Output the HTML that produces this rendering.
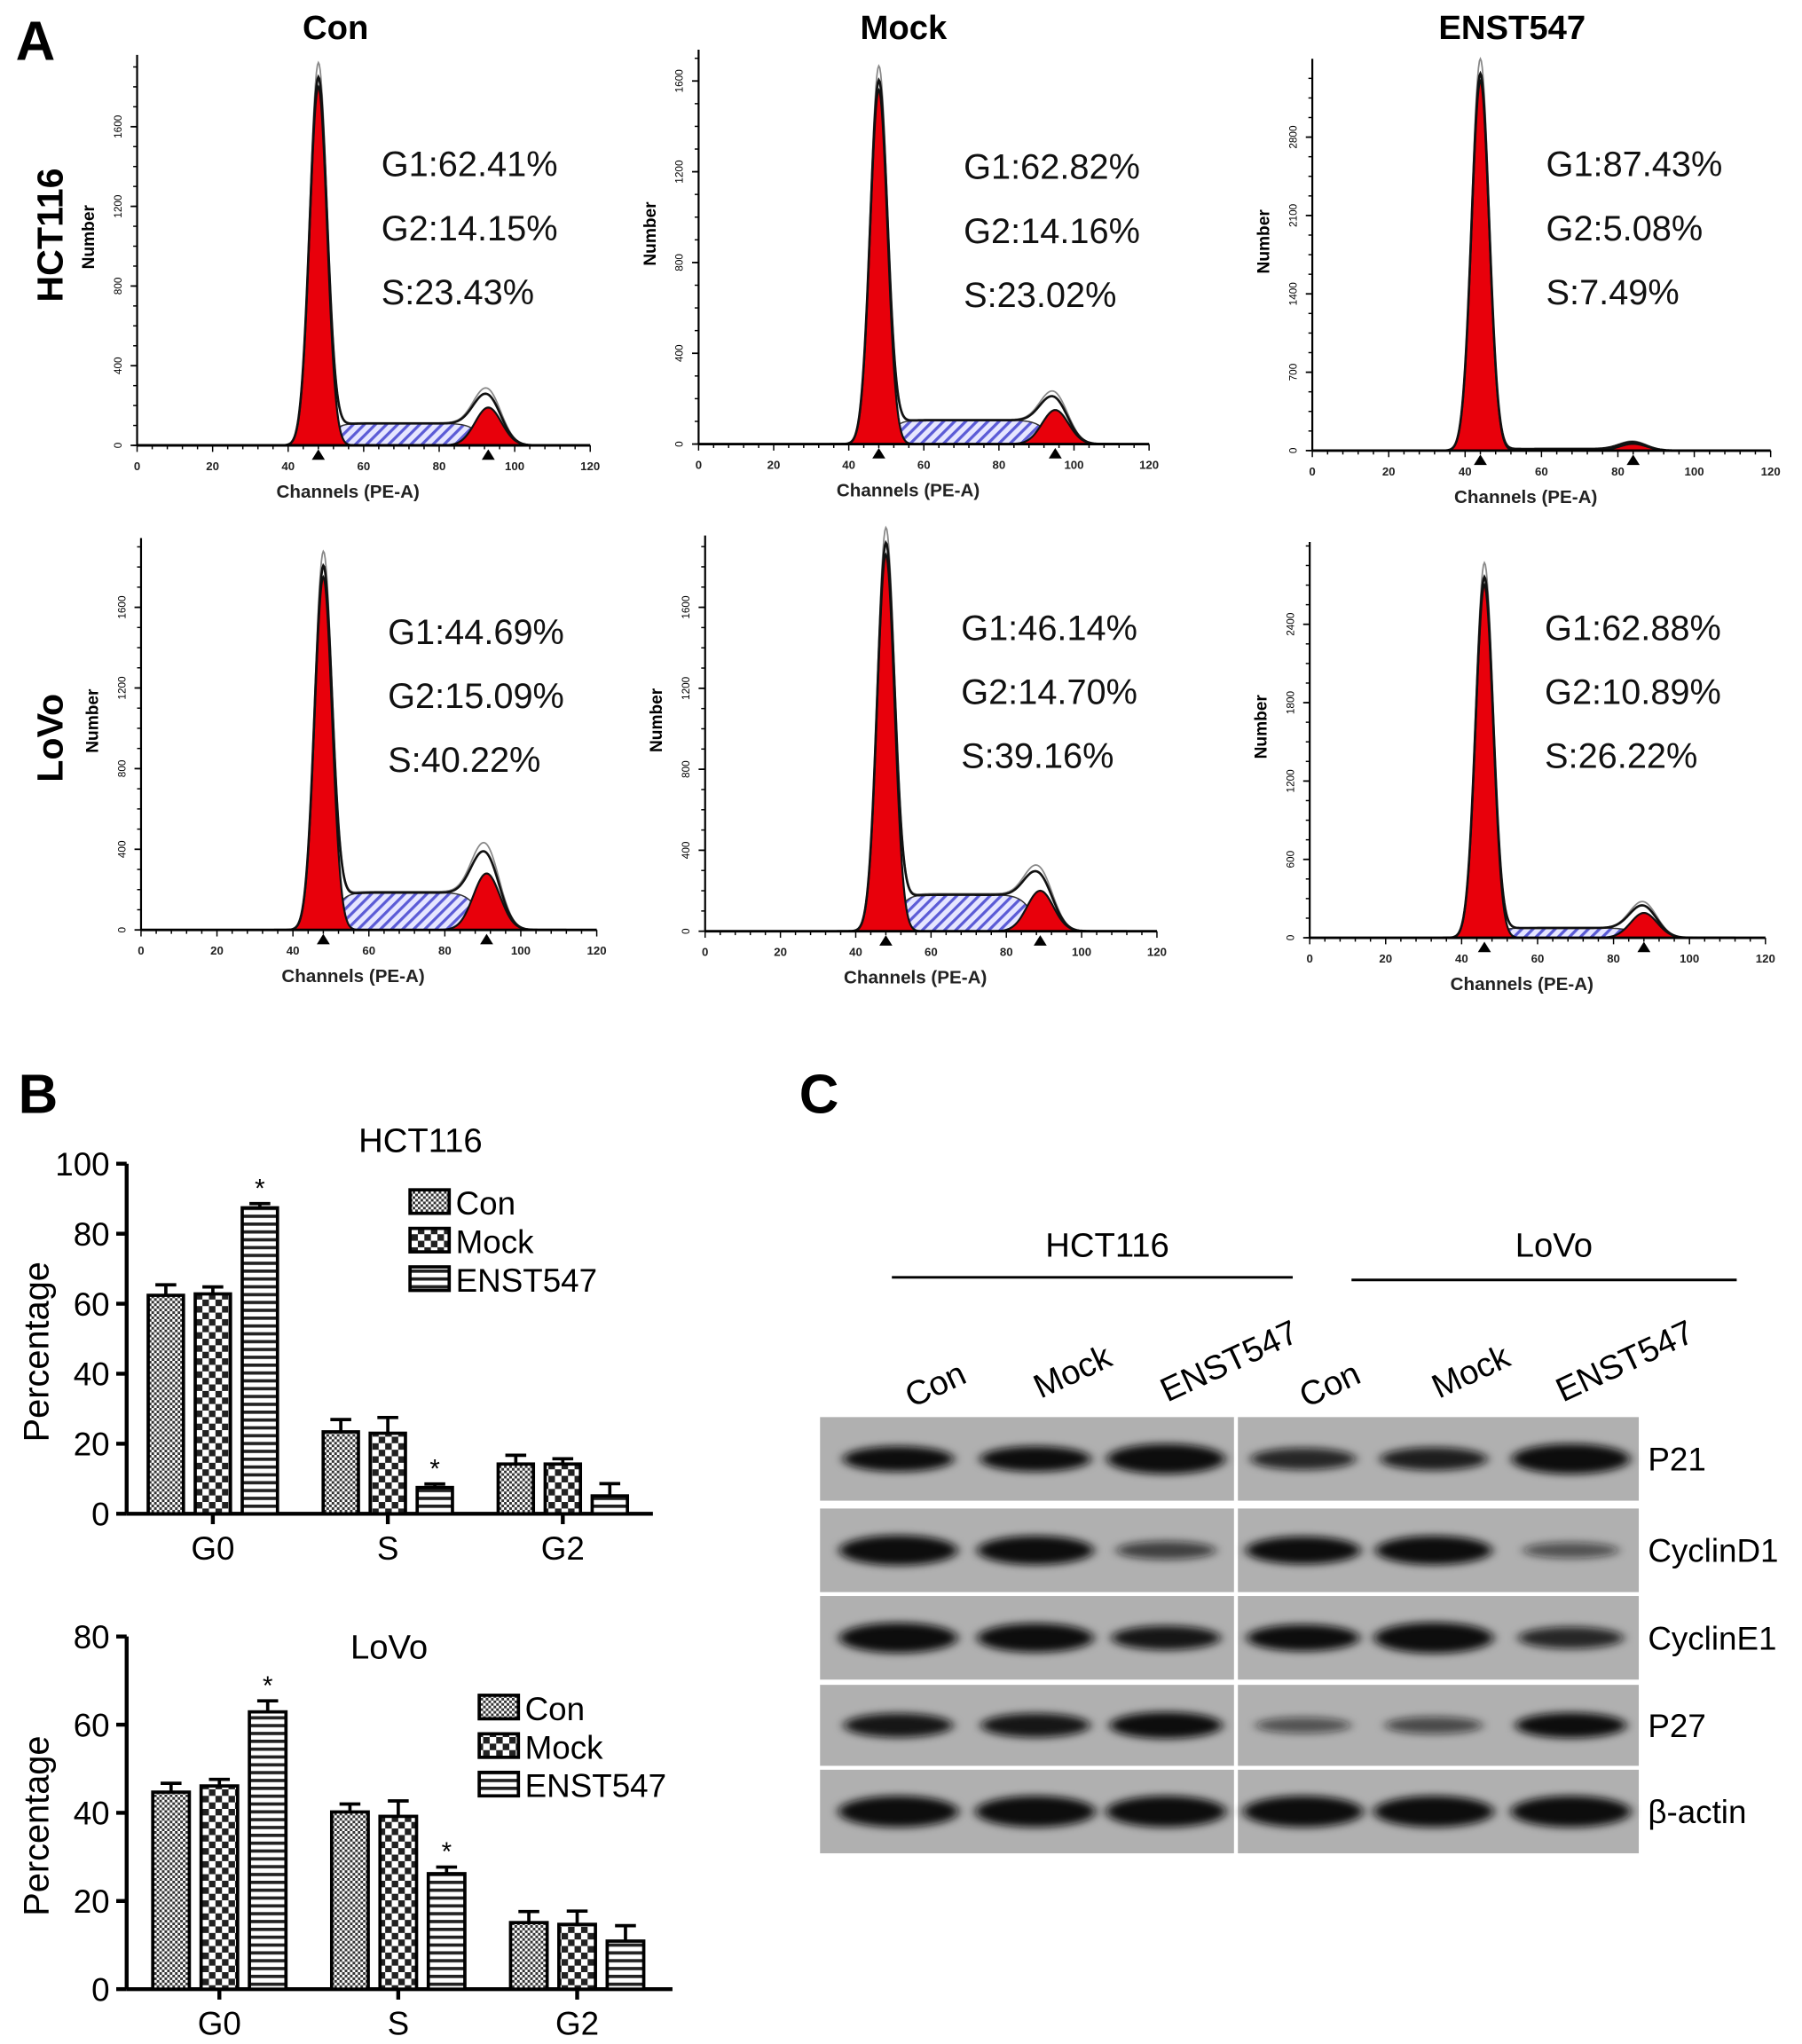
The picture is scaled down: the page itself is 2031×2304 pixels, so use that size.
<!DOCTYPE html>
<html><head><meta charset="utf-8">
<style>
html,body{margin:0;padding:0;background:#fff;}
svg{display:block;font-family:"Liberation Sans",Arial,sans-serif;}
</style></head>
<body>
<svg id="fig" width="2031" height="2304" viewBox="0 0 1380 1565" preserveAspectRatio="none" xmlns="http://www.w3.org/2000/svg">
<defs>
<pattern id="hatch" patternUnits="userSpaceOnUse" width="6" height="6" patternTransform="rotate(45)">
<rect width="6" height="6" fill="#e6e6ff"/><rect width="2.2" height="6" fill="#5b5bd6"/></pattern>
<pattern id="pCon" patternUnits="userSpaceOnUse" width="4" height="4">
<rect width="4" height="4" fill="#fff"/><rect width="2" height="2" fill="#333"/><rect x="2" y="2" width="2" height="2" fill="#333"/></pattern>
<pattern id="pMock" patternUnits="userSpaceOnUse" width="10" height="10">
<rect width="10" height="10" fill="#fff"/><rect width="5" height="5" fill="#222"/><rect x="5" y="5" width="5" height="5" fill="#222"/></pattern>
<pattern id="pEns" patternUnits="userSpaceOnUse" width="6" height="6">
<rect width="6" height="6" fill="#fff"/><rect width="6" height="2.5" fill="#222"/></pattern>
<filter id="blur" x="-30%" y="-60%" width="160%" height="220%"><feGaussianBlur stdDeviation="4 3"/></filter>
</defs>
<g id="root"></g>
</svg>
<script>
// ---------- Panel A histogram data ----------
const histTitles = ["Con","Mock","ENST547"];
const histRows = ["HCT116","LoVo"];
const g1Pos = [48,48,44,48,48,46];
const g1Height = [1800,1560,3300,1750,1860,2700];
const g2Pos = [93,95,84,91,89,88];
const g2Height = [190,150,60,280,200,190];
const sLevel = [110,105,15,185,180,75];
const histYTicks = [[0,400,800,1200,1600],[0,400,800,1200,1600],[0,700,1400,2100,2800],[0,400,800,1200,1600],[0,400,800,1200,1600],[0,600,1200,1800,2400]];
const histXTicks = [0,20,40,60,80,100,120];
const statG1 = ["62.41","62.82","87.43","44.69","46.14","62.88"];
const statG2 = ["14.15","14.16","5.08","15.09","14.70","10.89"];
const statS = ["23.43","23.02","7.49","40.22","39.16","26.22"];
// ---------- Panel B bar data ----------
const barGroups = ["G0","S","G2"];
const barSeries = ["Con","Mock","ENST547"];
const hctValues = [[62.4,62.8,87.4],[23.4,23.0,7.5],[14.2,14.2,5.1]];
const hctErrors = [[3,2,1.2],[3.5,4.5,1],[2.5,1.5,3.5]];
const hctStars = [[0,0,1],[0,0,1],[0,0,0]];
const lovoValues = [[44.7,46.1,62.9],[40.2,39.2,26.2],[15.1,14.7,10.9]];
const lovoErrors = [[2,1.5,2.5],[1.8,3.5,1.5],[2.5,3,3.5]];
const lovoStars = [[0,0,1],[0,0,1],[0,0,0]];
const hctTicks = [0,20,40,60,80,100];
const lovoTicks = [0,20,40,60,80];
// ---------- Panel C blot data ----------
const blotProteins = ["P21","CyclinD1","CyclinE1","P27","β-actin"];
const blotLanes = ["Con","Mock","ENST547","Con","Mock","ENST547"];
const blotIntensity = [[0.75,0.75,0.95,0.6,0.65,0.95],[0.95,0.9,0.45,0.85,0.9,0.35],[0.95,0.9,0.7,0.8,0.98,0.6],[0.7,0.7,0.8,0.35,0.4,0.75],[1,1,1,1,1,1]];

const NS="http://www.w3.org/2000/svg";
const root=document.getElementById('root');
function mk(tag,attrs,parent,text){const e=document.createElementNS(NS,tag);for(const k in attrs)e.setAttribute(k,attrs[k]);if(text!==undefined)e.textContent=text;(parent||root).appendChild(e);return e;}

let t;
t=mk('text',{x:12,y:46,'font-size':42,'font-weight':'bold'},root,'A');


t=mk('text',{x:14,y:852,'font-size':42,'font-weight':'bold'},root,'B');


t=mk('text',{x:612,y:852,'font-size':42,'font-weight':'bold'},root,'C');



// ---------- Panel A ----------
const histGeom=[
 {x0:105,x1:452,base:341,top:42,tv:1600,ty:97},
 {x0:535,x1:880,base:340,top:38,tv:1600,ty:62},
 {x0:1005,x1:1356,base:345,top:45,tv:2800,ty:105},
 {x0:108,x1:457,base:712,top:412,tv:1600,ty:465},
 {x0:540,x1:886,base:713,top:410,tv:1600,ty:465},
 {x0:1003,x1:1352,base:718,top:415,tv:2400,ty:478}];
const statPosX=[292,738,1184,297,736,1183];
const statPosY=[135,137,135,493,490,490];
const colTitleX=[257,692,1158];
histTitles.forEach((s,i)=>{const e=mk('text',{x:colTitleX[i],y:30,'font-size':26,'font-weight':'bold','text-anchor':'middle'},root,s);

});
const rowY=[180,565];
histRows.forEach((s,i)=>{const e=mk('text',{x:0,y:0,'font-size':28,'font-weight':'bold','text-anchor':'middle',transform:`translate(48,${rowY[i]}) rotate(-90)`},root,s);

});

function sig(z){return 1/(1+Math.exp(-z));}
for(let p=0;p<6;p++){
 const G=histGeom[p];
 const g=mk('g',{});
 
 
 const sx=c=>G.x0+(G.x1-G.x0)*c/120;
 const k=(G.base-G.ty)/G.tv;
 const sy=v=>G.base-v*k;
 const m1=g1Pos[p],h1=g1Height[p],m2=g2Pos[p],h2=g2Height[p],S=sLevel[p];
 const sd1=2.3,sd2=3.5;
 const fG1=c=>h1*Math.exp(-(c-m1)*(c-m1)/(2*sd1*sd1));
 const fG2=c=>h2*Math.exp(-(c-m2)*(c-m2)/(2*sd2*sd2));
 const fS=c=>S*sig((c-m1-3)/1.5)*sig((m2-2-c)/1.8);
 const cs=[];for(let c=35;c<=112;c+=0.25)cs.push(c);
 const area=(f)=>'M'+sx(cs[0])+','+G.base+' '+cs.map(c=>'L'+sx(c).toFixed(2)+','+sy(f(c)).toFixed(2)).join(' ')+' L'+sx(cs[cs.length-1])+','+G.base+'Z';
 const line=(f)=>'M'+cs.map(c=>sx(c).toFixed(2)+','+sy(f(c)).toFixed(2)).join(' L');
 let e;
 e=mk('path',{d:area(fS),fill:'url(#hatch)',stroke:'#333','stroke-width':1},g);
 
 
 e=mk('path',{d:area(fG1),fill:'#e8000b',stroke:'#111','stroke-width':1.5},g);
 
 
 e=mk('path',{d:area(fG2),fill:'#e8000b',stroke:'#111','stroke-width':1.5},g);
 
 
 e=mk('path',{d:line(c=>fG1(c)*1.06+fG2(c)*1.35+fS(c)*1.03),fill:'none',stroke:'#888','stroke-width':1.2},g);
 
 
 e=mk('path',{d:line(c=>fG1(c)*1.02+fG2(c)*1.2+fS(c)),fill:'none',stroke:'#111','stroke-width':1.8},g);
 
 
 e=mk('line',{x1:G.x0,y1:G.top,x2:G.x0,y2:G.base,stroke:'#000','stroke-width':1.5},g);
 
 
 e=mk('line',{x1:G.x0,y1:G.base,x2:G.x1,y2:G.base,stroke:'#000','stroke-width':2},g);
 
 
 for(let yy=G.base;yy>G.top;yy-=(G.base-G.ty)/16){mk('line',{x1:G.x0-3,y1:yy,x2:G.x0,y2:yy,stroke:'#000','stroke-width':1},g);}
 histYTicks[p].forEach(v=>{const ty=sy(v);
  mk('line',{x1:G.x0-5,y1:ty,x2:G.x0,y2:ty,stroke:'#000','stroke-width':1.2},g);
  const tt=mk('text',{x:0,y:0,'font-size':8,'text-anchor':'middle',transform:`translate(${G.x0-12},${ty}) rotate(-90)`},g,String(v));
  
  });
 for(let c=0;c<=120;c+=4){mk('line',{x1:sx(c),y1:G.base,x2:sx(c),y2:G.base+(c%20?3:5),stroke:'#000','stroke-width':1},g);}
 histXTicks.forEach(v=>{const tt=mk('text',{x:sx(v),y:G.base+19,'font-size':9,'font-weight':'bold','text-anchor':'middle',fill:'#222'},g,String(v));
  
  });
 [m1,m2].forEach(m=>{const tx=sx(m);const tr=mk('path',{d:`M${tx-5},${G.base+11} L${tx+5},${G.base+11} L${tx},${G.base+3}Z`,fill:'#000'},g);
  
  });
 e=mk('text',{x:(G.x0+G.x1)/2-12,y:G.base+40,'font-size':14,'font-weight':'bold','text-anchor':'middle',fill:'#222'},g,'Channels (PE-A)');
 
 
 e=mk('text',{x:0,y:0,'font-size':13,'font-weight':'bold','text-anchor':'middle',transform:`translate(${G.x0-33},${(G.top+G.base)/2-10}) rotate(-90)`},g,'Number');
 
 
 [['G1:',statG1[p]],['G2:',statG2[p]],['S:',statS[p]]].forEach((a,i)=>{
  const tt=mk('text',{x:statPosX[p],y:statPosY[p]+i*49,'font-size':27,fill:'#111'},g,a[0]+a[1]+'%');
  
  });
}

// ---------- Panel B ----------
function barChart(cfg){
 const g=mk('g',{});
 
 
 const sy=v=>cfg.base-(cfg.base-cfg.topY)*v/cfg.max;
 let e;
 e=mk('line',{x1:cfg.ax,y1:cfg.topY,x2:cfg.ax,y2:cfg.base,stroke:'#000','stroke-width':3},g);
 
 
 e=mk('line',{x1:cfg.ax,y1:cfg.base,x2:cfg.axEnd,y2:cfg.base,stroke:'#000','stroke-width':3},g);
 
 
 cfg.ticks.forEach(v=>{const y=sy(v);mk('line',{x1:cfg.ax-8,y1:y,x2:cfg.ax,y2:y,stroke:'#000','stroke-width':3},g);
  const tt=mk('text',{x:cfg.ax-13,y:y+9,'font-size':25,'text-anchor':'end'},g,String(v));
  
  });
 e=mk('text',{x:0,y:0,'font-size':27,'text-anchor':'middle',transform:`translate(${cfg.ax-60},${(cfg.topY+cfg.base)/2+10}) rotate(-90)`},g,'Percentage');
 
 
 e=mk('text',{x:cfg.titleX,y:cfg.titleY,'font-size':26,'text-anchor':'middle'},g,cfg.title);
 
 
 const pats=['url(#pCon)','url(#pMock)','url(#pEns)'];
 barGroups.forEach((grp,gi)=>{
  const cx=cfg.g0+gi*cfg.gStep;
  mk('line',{x1:cx,y1:cfg.base,x2:cx,y2:cfg.base+8,stroke:'#000','stroke-width':3},g);
  const tt=mk('text',{x:cx,y:cfg.base+35,'font-size':25,'text-anchor':'middle'},g,grp);
  
  
  barSeries.forEach((s,si)=>{
   const v=cfg.values[gi][si], er=cfg.errors[gi][si];
   const bx=cx+(si-1)*cfg.bStep-cfg.bw/2;
   const top=sy(v);
   mk('line',{x1:bx+cfg.bw/2,y1:sy(v+er),x2:bx+cfg.bw/2,y2:top,stroke:'#000','stroke-width':2.5},g);
   mk('line',{x1:bx+cfg.bw/2-8,y1:sy(v+er),x2:bx+cfg.bw/2+8,y2:sy(v+er),stroke:'#000','stroke-width':2.5},g);
   const r=mk('rect',{x:bx,y:top,width:cfg.bw,height:cfg.base-top,fill:pats[si],stroke:'#000','stroke-width':2.5},g);
   
   
   if(cfg.stars[gi][si]){const st=mk('text',{x:bx+cfg.bw/2,y:sy(v+er)-5,'font-size':20,'text-anchor':'middle'},g,'*');
    
    }
  });
 });
 barSeries.forEach((s,si)=>{
  const y=cfg.legY+si*29.5;
  const r=mk('rect',{x:cfg.legX,y:y-10,width:30,height:18,fill:pats[si],stroke:'#000','stroke-width':2.5},g);
  
  
  const tt=mk('text',{x:cfg.legX+35,y:y+9,'font-size':25},g,s);
  
  
 });
}
barChart({name:'bar-chart-hct116',title:'HCT116',titleX:322,titleY:882,ax:97,axEnd:500,base:1159,topY:891,max:100,ticks:hctTicks,values:hctValues,errors:hctErrors,stars:hctStars,g0:163,gStep:134,bStep:36,bw:27,legX:314,legY:921});
barChart({name:'bar-chart-lovo',title:'LoVo',titleX:298,titleY:1270,ax:97,axEnd:515,base:1523,topY:1253,max:80,ticks:lovoTicks,values:lovoValues,errors:lovoErrors,stars:lovoStars,g0:168,gStep:137,bStep:37,bw:28,legX:367,legY:1308});

// ---------- Panel C ----------
const gc=mk('g',{});


let e;
e=mk('text',{x:848,y:962,'font-size':26,'text-anchor':'middle'},gc,'HCT116');


mk('line',{x1:683,y1:978,x2:990,y2:978,stroke:'#000','stroke-width':2},gc);
e=mk('text',{x:1190,y:962,'font-size':26,'text-anchor':'middle'},gc,'LoVo');


mk('line',{x1:1035,y1:980,x2:1330,y2:980,stroke:'#000','stroke-width':2},gc);
const laneX=[700,805,905,1010,1110,1215];
const laneLabX=[720,825,945,1022,1130,1248];
blotLanes.forEach((s,i)=>{const tt=mk('text',{x:0,y:0,'font-size':26,'text-anchor':'middle',transform:`translate(${laneLabX[i]},${s==='ENST547'?1050:(s==='Con'?1068:1058)}) rotate(-25)`},gc,s);
 
 });
const rowTop=[1085,1155,1222,1290,1355];
const rowH=[64,64,64,62,64];
blotProteins.forEach((prot,ri)=>{
 [[628,317],[948,307]].forEach(([bx,bw])=>{
  const bg=mk('rect',{x:bx,y:rowTop[ri],width:bw,height:rowH[ri],fill:'#b0b0b0'},gc);
  
  
 });
 blotLanes.forEach((s,li)=>{
  const a=blotIntensity[ri][li];
  const band=mk('ellipse',{cx:laneX[li]-12,cy:rowTop[ri]+rowH[ri]/2,rx:32+a*14,ry:3+a*9,fill:'#111','fill-opacity':Math.min(1,0.25+a),filter:'url(#blur)'},gc);
  
  
 });
 const lt=mk('text',{x:1262,y:rowTop[ri]+rowH[ri]/2+9,'font-size':25},gc,prot);
 
 
});
</script>
</body></html>
